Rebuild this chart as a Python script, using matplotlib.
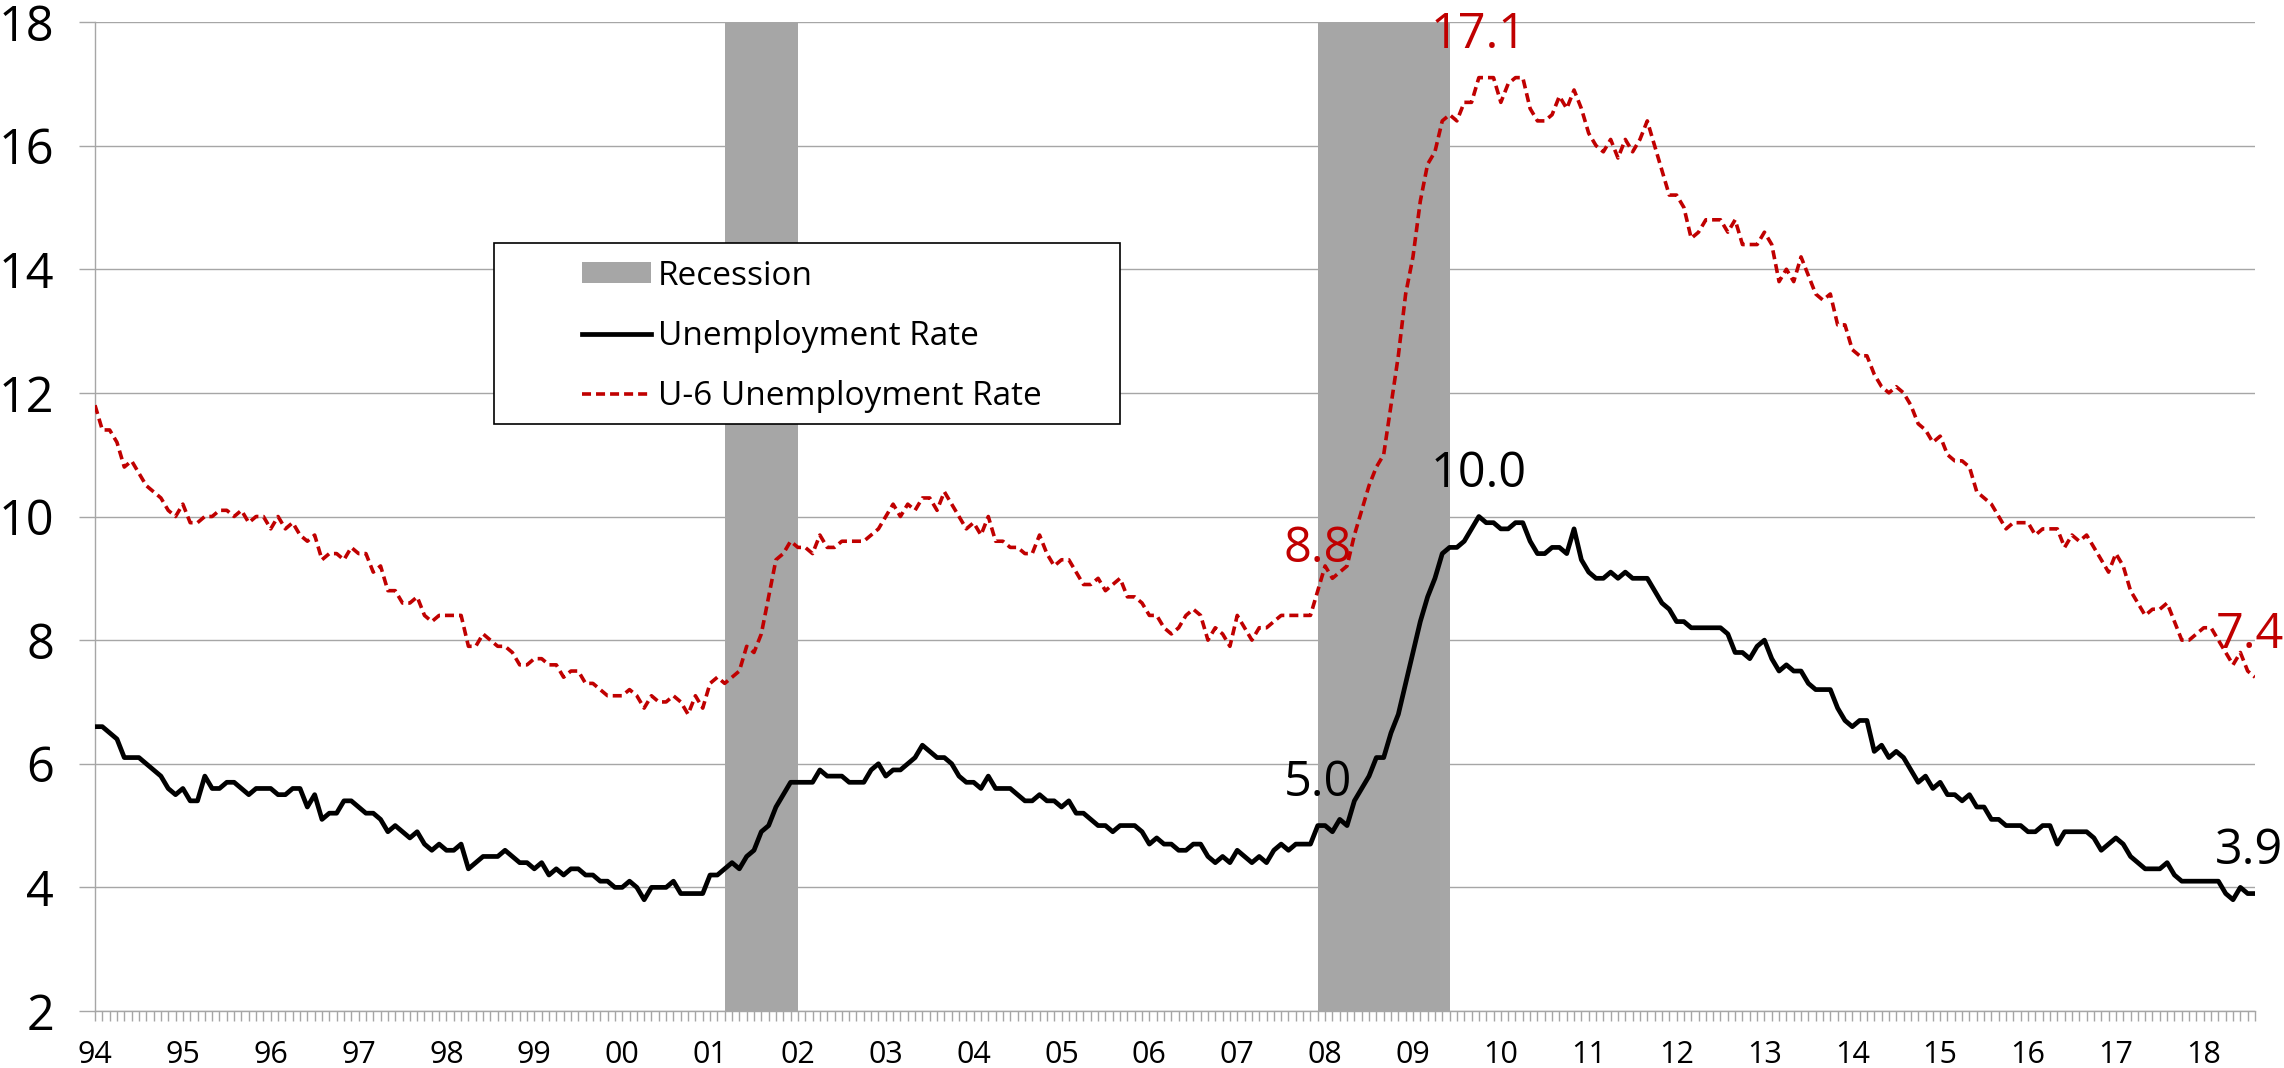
import matplotlib
matplotlib.use("Agg")
import matplotlib.pyplot as plt
from matplotlib.patches import Patch, Rectangle
from matplotlib.lines import Line2D

plt.rcParams['font.family'] = ['Open Sans', 'DejaVu Sans']
plt.rcParams['lines.scale_dashes'] = False

# ---------------- data (monthly, Jan 1994 - Aug 2018) ----------------
start_year = 1994
unemployment_rate = [
    6.6, 6.6, 6.5, 6.4, 6.1, 6.1, 6.1, 6.0, 5.9, 5.8, 5.6, 5.5,   # 1994
    5.6, 5.4, 5.4, 5.8, 5.6, 5.6, 5.7, 5.7, 5.6, 5.5, 5.6, 5.6,   # 1995
    5.6, 5.5, 5.5, 5.6, 5.6, 5.3, 5.5, 5.1, 5.2, 5.2, 5.4, 5.4,   # 1996
    5.3, 5.2, 5.2, 5.1, 4.9, 5.0, 4.9, 4.8, 4.9, 4.7, 4.6, 4.7,   # 1997
    4.6, 4.6, 4.7, 4.3, 4.4, 4.5, 4.5, 4.5, 4.6, 4.5, 4.4, 4.4,   # 1998
    4.3, 4.4, 4.2, 4.3, 4.2, 4.3, 4.3, 4.2, 4.2, 4.1, 4.1, 4.0,   # 1999
    4.0, 4.1, 4.0, 3.8, 4.0, 4.0, 4.0, 4.1, 3.9, 3.9, 3.9, 3.9,   # 2000
    4.2, 4.2, 4.3, 4.4, 4.3, 4.5, 4.6, 4.9, 5.0, 5.3, 5.5, 5.7,   # 2001
    5.7, 5.7, 5.7, 5.9, 5.8, 5.8, 5.8, 5.7, 5.7, 5.7, 5.9, 6.0,   # 2002
    5.8, 5.9, 5.9, 6.0, 6.1, 6.3, 6.2, 6.1, 6.1, 6.0, 5.8, 5.7,   # 2003
    5.7, 5.6, 5.8, 5.6, 5.6, 5.6, 5.5, 5.4, 5.4, 5.5, 5.4, 5.4,   # 2004
    5.3, 5.4, 5.2, 5.2, 5.1, 5.0, 5.0, 4.9, 5.0, 5.0, 5.0, 4.9,   # 2005
    4.7, 4.8, 4.7, 4.7, 4.6, 4.6, 4.7, 4.7, 4.5, 4.4, 4.5, 4.4,   # 2006
    4.6, 4.5, 4.4, 4.5, 4.4, 4.6, 4.7, 4.6, 4.7, 4.7, 4.7, 5.0,   # 2007
    5.0, 4.9, 5.1, 5.0, 5.4, 5.6, 5.8, 6.1, 6.1, 6.5, 6.8, 7.3,   # 2008
    7.8, 8.3, 8.7, 9.0, 9.4, 9.5, 9.5, 9.6, 9.8, 10.0, 9.9, 9.9,  # 2009
    9.8, 9.8, 9.9, 9.9, 9.6, 9.4, 9.4, 9.5, 9.5, 9.4, 9.8, 9.3,   # 2010
    9.1, 9.0, 9.0, 9.1, 9.0, 9.1, 9.0, 9.0, 9.0, 8.8, 8.6, 8.5,   # 2011
    8.3, 8.3, 8.2, 8.2, 8.2, 8.2, 8.2, 8.1, 7.8, 7.8, 7.7, 7.9,   # 2012
    8.0, 7.7, 7.5, 7.6, 7.5, 7.5, 7.3, 7.2, 7.2, 7.2, 6.9, 6.7,   # 2013
    6.6, 6.7, 6.7, 6.2, 6.3, 6.1, 6.2, 6.1, 5.9, 5.7, 5.8, 5.6,   # 2014
    5.7, 5.5, 5.5, 5.4, 5.5, 5.3, 5.3, 5.1, 5.1, 5.0, 5.0, 5.0,   # 2015
    4.9, 4.9, 5.0, 5.0, 4.7, 4.9, 4.9, 4.9, 4.9, 4.8, 4.6, 4.7,   # 2016
    4.8, 4.7, 4.5, 4.4, 4.3, 4.3, 4.3, 4.4, 4.2, 4.1, 4.1, 4.1,   # 2017
    4.1, 4.1, 4.1, 3.9, 3.8, 4.0, 3.9, 3.9,                       # 2018
]
u6_rate = [
    11.8, 11.4, 11.4, 11.2, 10.8, 10.9, 10.7, 10.5, 10.4, 10.3, 10.1, 10.0,  # 1994
    10.2, 9.9, 9.9, 10.0, 10.0, 10.1, 10.1, 10.0, 10.1, 9.9, 10.0, 10.0,     # 1995
    9.8, 10.0, 9.8, 9.9, 9.7, 9.6, 9.7, 9.3, 9.4, 9.4, 9.3, 9.5,             # 1996
    9.4, 9.4, 9.1, 9.2, 8.8, 8.8, 8.6, 8.6, 8.7, 8.4, 8.3, 8.4,              # 1997
    8.4, 8.4, 8.4, 7.9, 7.9, 8.1, 8.0, 7.9, 7.9, 7.8, 7.6, 7.6,              # 1998
    7.7, 7.7, 7.6, 7.6, 7.4, 7.5, 7.5, 7.3, 7.3, 7.2, 7.1, 7.1,              # 1999
    7.1, 7.2, 7.1, 6.9, 7.1, 7.0, 7.0, 7.1, 7.0, 6.8, 7.1, 6.9,              # 2000
    7.3, 7.4, 7.3, 7.4, 7.5, 7.9, 7.8, 8.1, 8.7, 9.3, 9.4, 9.6,              # 2001
    9.5, 9.5, 9.4, 9.7, 9.5, 9.5, 9.6, 9.6, 9.6, 9.6, 9.7, 9.8,              # 2002
    10.0, 10.2, 10.0, 10.2, 10.1, 10.3, 10.3, 10.1, 10.4, 10.2, 10.0, 9.8,   # 2003
    9.9, 9.7, 10.0, 9.6, 9.6, 9.5, 9.5, 9.4, 9.4, 9.7, 9.4, 9.2,             # 2004
    9.3, 9.3, 9.1, 8.9, 8.9, 9.0, 8.8, 8.9, 9.0, 8.7, 8.7, 8.6,              # 2005
    8.4, 8.4, 8.2, 8.1, 8.2, 8.4, 8.5, 8.4, 8.0, 8.2, 8.1, 7.9,              # 2006
    8.4, 8.2, 8.0, 8.2, 8.2, 8.3, 8.4, 8.4, 8.4, 8.4, 8.4, 8.8,              # 2007
    9.2, 9.0, 9.1, 9.2, 9.7, 10.1, 10.5, 10.8, 11.0, 11.8, 12.6, 13.6,       # 2008
    14.2, 15.1, 15.7, 15.9, 16.4, 16.5, 16.4, 16.7, 16.7, 17.1, 17.1, 17.1,  # 2009
    16.7, 17.0, 17.1, 17.1, 16.6, 16.4, 16.4, 16.5, 16.8, 16.6, 16.9, 16.6,  # 2010
    16.2, 16.0, 15.9, 16.1, 15.8, 16.1, 15.9, 16.1, 16.4, 16.0, 15.6, 15.2,  # 2011
    15.2, 15.0, 14.5, 14.6, 14.8, 14.8, 14.8, 14.6, 14.8, 14.4, 14.4, 14.4,  # 2012
    14.6, 14.4, 13.8, 14.0, 13.8, 14.2, 13.9, 13.6, 13.5, 13.6, 13.1, 13.1,  # 2013
    12.7, 12.6, 12.6, 12.3, 12.1, 12.0, 12.1, 12.0, 11.8, 11.5, 11.4, 11.2,  # 2014
    11.3, 11.0, 10.9, 10.9, 10.8, 10.4, 10.3, 10.2, 10.0, 9.8, 9.9, 9.9,     # 2015
    9.9, 9.7, 9.8, 9.8, 9.8, 9.5, 9.7, 9.6, 9.7, 9.5, 9.3, 9.1,              # 2016
    9.4, 9.2, 8.8, 8.6, 8.4, 8.5, 8.5, 8.6, 8.3, 8.0, 8.0, 8.1,              # 2017
    8.2, 8.2, 8.0, 7.8, 7.6, 7.8, 7.5, 7.4,                                  # 2018
]
# recession shading (year, month) start/end
recessions = [((2001, 3), (2002, 1)), ((2007, 12), (2009, 6))]
# annotated points: (year, month, series, label)
annotations = [
    (2009, 10, 'u6', '17.1'),
    (2009, 10, 'ur', '10.0'),
    (2007, 12, 'u6', '8.8'),
    (2007, 12, 'ur', '5.0'),
    (2018, 8, 'ur', '3.9'),
    (2018, 8, 'u6', '7.4'),
]
year_labels = ['94', '95', '96', '97', '98', '99', '00', '01', '02', '03', '04', '05',
               '06', '07', '08', '09', '10', '11', '12', '13', '14', '15', '16', '17', '18']

RED = '#C00000'
GRID = '#A6A6A6'
SHADE = '#A6A6A6'
BLACK_LW = 3.4
RED_LW = 2.6
RED_DASH = (0, (6.5, 3.6))

def midx(y, m):
    return (y - start_year) * 12 + (m - 1)

n = len(unemployment_rate)
x = list(range(n))

W, H = 2284, 1068
fig = plt.figure(figsize=(W / 100, H / 100), dpi=100)
ax = fig.add_axes([95 / W, 1 - 1011 / H, (2255 - 95) / W, (1011 - 22) / H])

for (s, e) in recessions:
    ax.axvspan(midx(*s), midx(*e), color=SHADE, lw=0, zorder=1)

ax.plot(x, u6_rate, color=RED, lw=RED_LW, linestyle=RED_DASH, zorder=3,
        dash_joinstyle='round')
ax.plot(x, unemployment_rate, color='black', lw=BLACK_LW, zorder=4,
        solid_joinstyle='round')

ax.set_xlim(0, n - 1)
ax.set_ylim(2, 18)
ax.set_yticks(range(2, 19, 2))
ax.set_yticklabels([str(v) for v in range(2, 19, 2)])
ticks = x
labels = [year_labels[i // 12] if i % 12 == 0 else '' for i in ticks]
ax.set_xticks(ticks)
ax.set_xticklabels(labels)

ax.yaxis.grid(True, color=GRID, lw=1.0)
ax.set_axisbelow(True)
for sp in ['top', 'right']:
    ax.spines[sp].set_visible(False)
for sp in ['left', 'bottom']:
    ax.spines[sp].set_color(GRID)
    ax.spines[sp].set_linewidth(1.0)
ax.tick_params(axis='y', direction='out', length=11.5, width=1.0, color=GRID,
               labelsize=35, pad=18, labelcolor='black')
ax.tick_params(axis='x', direction='out', length=7.2, width=1.0, color=GRID,
               labelsize=22, pad=14, labelcolor='black')

for (yy, mm, ser, lab) in annotations:
    i = midx(yy, mm)
    val = u6_rate[i] if ser == 'u6' else unemployment_rate[i]
    col = RED if ser == 'u6' else 'black'
    dx = -4 if i == n - 1 else 0
    ax.annotate(lab, xy=(i, val), xytext=(dx, 21), textcoords='offset points',
                ha='center', va='baseline', fontsize=35, color=col, zorder=6,
                annotation_clip=False)

# legend box
box = Rectangle((494 / W, 1 - 424 / H), (1120 - 494) / W, (424 - 243) / H,
                transform=fig.transFigure, facecolor='white', edgecolor='black',
                lw=1.2, zorder=5)
fig.add_artist(box)
handles = [Patch(facecolor=SHADE, edgecolor='none'),
           Line2D([], [], color='black', lw=BLACK_LW),
           Line2D([], [], color=RED, lw=RED_LW, linestyle=RED_DASH)]
leg = fig.legend(handles, ['Recession', 'Unemployment Rate', 'U-6 Unemployment Rate'],
                 loc='upper left', bbox_to_anchor=(565 / W, 1 - 243 / H),
                 bbox_transform=fig.transFigure, frameon=False, fontsize=24,
                 borderpad=0, handlelength=2.07, handleheight=0.6,
                 handletextpad=0.21, labelspacing=0.82)
leg.set_zorder(7)

fig.savefig('out.png', dpi=100)
